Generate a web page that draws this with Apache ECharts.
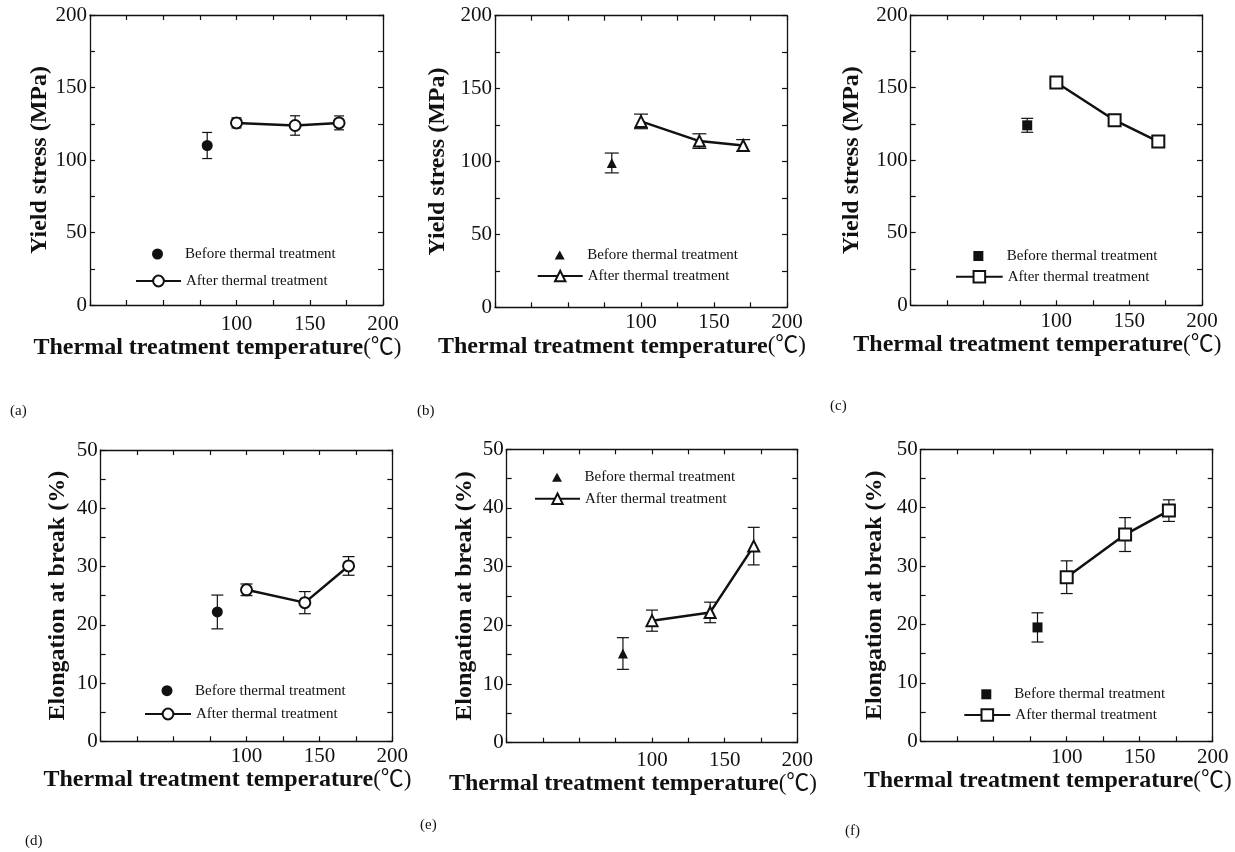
<!DOCTYPE html>
<html><head><meta charset="utf-8">
<script src="https://cdn.jsdelivr.net/npm/echarts@6/dist/echarts.min.js"></script>
<style>html,body{margin:0;padding:0;background:#fff}#c{width:1235px;height:852px}</style>
</head><body><div id="c"></div>
<script>
// ---------------- DATA ----------------
const tempBefore = [80];
const tempAfter = [100, 140, 170];
const xShownLabels = [100, 150, 200];

const yieldA_before = [110];   const yieldA_beforeErr = [9];
const yieldA_after = [125.6, 123.8, 125.6]; const yieldA_afterErr = [3.5, 6.7, 4.8];

const yieldB_before = [99];    const yieldB_beforeErr = [6.8];
const yieldB_after = [127.5, 114, 111];     const yieldB_afterErr = [5, 5, 4];

const yieldC_before = [124];   const yieldC_beforeErr = [4.8];
const yieldC_after = [153.5, 127.5, 112.8]; const yieldC_afterErr = [1.5, 2, 2.5];

const elongD_before = [22.2];  const elongD_beforeErr = [2.9];
const elongD_after = [26, 23.8, 30.1];      const elongD_afterErr = [1, 1.9, 1.6];

const elongE_before = [15.2];  const elongE_beforeErr = [2.7];
const elongE_after = [20.8, 22.2, 33.5];    const elongE_afterErr = [1.8, 1.75, 3.2];

const elongF_before = [19.5];  const elongF_beforeErr = [2.5];
const elongF_after = [28.1, 35.4, 39.5];    const elongF_afterErr = [2.8, 2.9, 1.85];

const yieldTicks = [0, 50, 100, 150, 200];
const elongTicks = [0, 10, 20, 30, 40, 50];
const yieldName = 'Yield stress (MPa)';
const elongName = 'Elongation at break (%)';
const xName = 'Thermal treatment temperature{u|(℃)}';
const beforeLabel = 'Before thermal treatment';
const afterLabel = 'After thermal treatment';
const panelLabels = ['(a)', '(b)', '(c)', '(d)', '(e)', '(f)'];

// ---------------- STYLE / LAYOUT ----------------
const INK = '#111';
const SERIF = "'Liberation Serif', 'Times New Roman', serif";
const panels = [
  {id:'a', before:yieldA_before, beforeErr:yieldA_beforeErr, after:yieldA_after, afterErr:yieldA_afterErr, ticks:yieldTicks, yName:yieldName, sym:'circle'},
  {id:'b', before:yieldB_before, beforeErr:yieldB_beforeErr, after:yieldB_after, afterErr:yieldB_afterErr, ticks:yieldTicks, yName:yieldName, sym:'triangle'},
  {id:'c', before:yieldC_before, beforeErr:yieldC_beforeErr, after:yieldC_after, afterErr:yieldC_afterErr, ticks:yieldTicks, yName:yieldName, sym:'rect'},
  {id:'d', before:elongD_before, beforeErr:elongD_beforeErr, after:elongD_after, afterErr:elongD_afterErr, ticks:elongTicks, yName:elongName, sym:'circle'},
  {id:'e', before:elongE_before, beforeErr:elongE_beforeErr, after:elongE_after, afterErr:elongE_afterErr, ticks:elongTicks, yName:elongName, sym:'triangle'},
  {id:'f', before:elongF_before, beforeErr:elongF_beforeErr, after:elongF_after, afterErr:elongF_afterErr, ticks:elongTicks, yName:elongName, sym:'rect'}
];
const layout = [
  {left:90,    top:15,    w:293,   h:290,   yGap:37, xGap:25, lblM:9, cap:5, legX:135,   legW:45,   legY1:254,   legY2:281},
  {left:495,   top:15.7,  w:292,   h:291.6, yGap:45, xGap:27, lblM:5, cap:7, legX:536.7, legW:45,   legY1:255,   legY2:276},
  {left:910.7, top:15,    w:291.3, h:290.3, yGap:47, xGap:24, lblM:6, cap:6, legX:955,   legW:46.7, legY1:256,   legY2:276.7},
  {left:100.7, top:450,   w:291.6, h:291.3, yGap:31, xGap:25, lblM:5, cap:6, legX:144,   legW:46,   legY1:690.7, legY2:714},
  {left:506.7, top:449.3, w:290.6, h:293.4, yGap:30, xGap:27, lblM:7, cap:6, legX:534,   legW:45,   legY1:477.3, legY2:498.7},
  {left:920.7, top:449.3, w:292,   h:292,   yGap:34, xGap:27, lblM:6, cap:6, legX:963.3, legW:46,   legY1:694.3, legY2:715}
];
const labelPos = [[10,404],[417,404],[830,399],[25,834],[420,818],[845,824]];
const symStyle = {
  circle:   {before:'circle',   beforeSize:11, beforeIcon:'circle', beforeIconH:11, after:'emptyCircle',   afterSize:11, afterIconH:13.5},
  triangle: {before:'triangle', beforeSize:10, beforeIcon:'path://M5,0L10,9L0,9Z', beforeIconH:9, after:'emptyTriangle', afterSize:11, afterIconH:13},
  rect:     {before:'rect',     beforeSize:10, beforeIcon:'path://M0,0H10V10H0Z', beforeIconH:10, after:'emptyRect',     afterSize:12, afterIconH:14.5}
};

function errRender(capHalf) {
  return function (params, api) {
    const x = api.value(0), lo = api.value(1), hi = api.value(2);
    const p1 = api.coord([x, lo]), p2 = api.coord([x, hi]);
    const st = {stroke: INK, lineWidth: 1.2};
    return {type:'group', children:[
      {type:'line', shape:{x1:p1[0], y1:p1[1], x2:p2[0], y2:p2[1]}, style:st},
      {type:'line', shape:{x1:p1[0]-capHalf, y1:p1[1], x2:p1[0]+capHalf, y2:p1[1]}, style:st},
      {type:'line', shape:{x1:p2[0]-capHalf, y1:p2[1], x2:p2[0]+capHalf, y2:p2[1]}, style:st}
    ]};
  };
}

const grid = [], xAxis = [], yAxis = [], series = [], legend = [], graphic = [];
panels.forEach((p, i) => {
  const L = layout[i], S = symStyle[p.sym];
  const yMin = p.ticks[0], yMax = p.ticks[p.ticks.length - 1], yStep = (p.ticks[1] - p.ticks[0]) / 2;
  grid.push({left:L.left, top:L.top, width:L.w, height:L.h, outerBoundsMode:'none', containLabel:false});
  const lineSt = {onZero:false, lineStyle:{color:INK, width:1.3}};
  const tickSt = {show:true, inside:true, length:5, lineStyle:{color:INK, width:1.2}};
  xAxis.push({
    type:'value', gridIndex:i, min:0, max:200, interval:25, position:'bottom',
    axisLine:lineSt, axisTick:tickSt, splitLine:{show:false},
    axisLabel:{margin:L.lblM, color:INK, fontFamily:SERIF, fontSize:21,
      formatter: v => xShownLabels.indexOf(v) >= 0 ? String(v) : ''},
    name:xName, nameLocation:'middle', nameGap:L.xGap,
    nameTextStyle:{color:INK, fontFamily:SERIF, fontSize:24, fontWeight:'bold', padding:[0,38,0,0],
      rich:{u:{fontFamily:"'Liberation Serif','Noto Sans CJK SC'", fontSize:23, fontWeight:'normal', color:INK}}}
  });
  xAxis.push({
    type:'value', gridIndex:i, min:0, max:200, interval:25, position:'top',
    axisLine:lineSt, axisTick:tickSt, splitLine:{show:false}, axisLabel:{show:false}
  });
  yAxis.push({
    type:'value', gridIndex:i, min:yMin, max:yMax, interval:yStep, position:'left',
    axisLine:lineSt, axisTick:tickSt, splitLine:{show:false},
    axisLabel:{margin:3, color:INK, fontFamily:SERIF, fontSize:21,
      formatter: v => p.ticks.indexOf(v) >= 0 ? String(v) : ''},
    name:p.yName, nameLocation:'middle', nameGap:L.yGap,
    nameTextStyle:{color:INK, fontFamily:SERIF, fontSize:24, fontWeight:'bold'}
  });
  yAxis.push({
    type:'value', gridIndex:i, min:yMin, max:yMax, interval:yStep, position:'right',
    axisLine:lineSt, axisTick:tickSt, splitLine:{show:false}, axisLabel:{show:false}
  });
  const xi = 2 * i, yi = 2 * i;
  const bName = p.id + '_before', aName = p.id + '_after';
  series.push({
    type:'custom', name:p.id + '_errB', xAxisIndex:xi, yAxisIndex:yi, z:1, silent:true,
    renderItem: errRender(L.cap), encode:{x:0, y:[1,2]},
    data: tempBefore.map((t, k) => [t, p.before[k] - p.beforeErr[k], p.before[k] + p.beforeErr[k]])
  });
  series.push({
    type:'custom', name:p.id + '_errA', xAxisIndex:xi, yAxisIndex:yi, z:1, silent:true,
    renderItem: errRender(L.cap), encode:{x:0, y:[1,2]},
    data: tempAfter.map((t, k) => [t, p.after[k] - p.afterErr[k], p.after[k] + p.afterErr[k]])
  });
  series.push({
    type:'scatter', name:bName, xAxisIndex:xi, yAxisIndex:yi, z:3,
    symbol:S.before, symbolSize:S.beforeSize, itemStyle:{color:INK, opacity:1},
    data: tempBefore.map((t, k) => [t, p.before[k]])
  });
  series.push({
    type:'line', name:aName, xAxisIndex:xi, yAxisIndex:yi, z:3,
    symbol:S.after, symbolSize:S.afterSize, showAllSymbol:true,
    lineStyle:{color:INK, width:2.5}, itemStyle:{color:INK, borderWidth:1.3},
    data: tempAfter.map((t, k) => [t, p.after[k]])
  });
  const legText = {color:INK, fontFamily:SERIF, fontSize:15};
  // the legend box is laid out on its visible bounding rect, so shift by the icon's empty margin
  legend.push({
    data:[{name:bName, icon:S.beforeIcon}], left:L.legX + (L.legW - S.beforeIconH) / 2, top:L.legY1 - 7.5, padding:0,
    itemWidth:L.legW, itemHeight:S.beforeIconH, selectedMode:false, textStyle:legText,
    formatter: () => beforeLabel
  });
  legend.push({
    data:[aName], left:L.legX, top:L.legY2 - 7.5, padding:0,
    itemWidth:L.legW, itemHeight:S.afterIconH, selectedMode:false, textStyle:legText,
    formatter: () => afterLabel
  });
  graphic.push({type:'text', left:labelPos[i][0], top:labelPos[i][1],
    style:{text:panelLabels[i], fill:INK, font:"15px 'Liberation Serif', serif"}});
});

const chart = echarts.init(document.getElementById('c'), null, {renderer:'canvas'});
chart.setOption({
  backgroundColor:'#fff', animation:false,
  grid, xAxis, yAxis, series, legend, graphic,
  tooltip:{show:false}
});
</script>
</body></html>
